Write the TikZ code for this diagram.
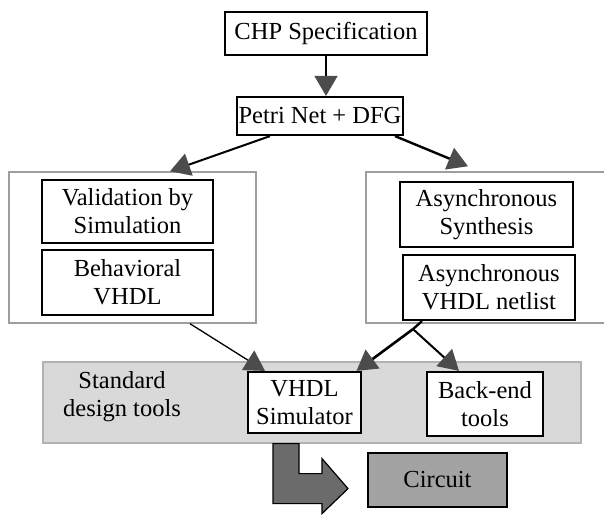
\documentclass[tikz,border=0pt]{standalone}
\usepackage{fontspec}
\setmainfont{Liberation Serif}
\usetikzlibrary{arrows.meta,calc}

\definecolor{framegray}{gray}{0.62}
\definecolor{bandfill}{gray}{0.85}
\definecolor{bandedge}{gray}{0.70}
\definecolor{circuitfill}{gray}{0.64}
\definecolor{bigarrow}{gray}{0.42}
\definecolor{tipgray}{gray}{0.30}

\tikzset{
  label text/.style={font=\fontsize{24.5}{28}\selectfont, align=center, inner sep=0pt},
  stepbox/.style={label text, draw=black, line width=2.2pt, fill=white},
  groupframe/.style={draw=framegray, line width=1.4pt, inner sep=0pt},
  conn/.style={line width=#1, -{Triangle[length=20pt,width=23pt,color=tipgray]}},
  conn/.default=1.6pt
}

\begin{document}
\begin{tikzpicture}[x=1pt,y=-1pt]
  \useasboundingbox (0,0) rectangle (604,516);

  % top of the flow
  \node[stepbox, minimum width=202pt, minimum height=43pt] (chp) at (326,33.5) {CHP Specification};
  \node[stepbox, minimum width=166pt, minimum height=38pt] (petri) at (320,116) {Petri Net + DFG};

  % left branch: simulation
  \node[groupframe, minimum width=247pt, minimum height=151pt] (leftgrp) at (132.5,247.5) {};
  \node[stepbox, minimum width=171pt, minimum height=63pt] (valid) at (127.5,211.5) {Validation by\\Simulation};
  \node[stepbox, minimum width=171pt, minimum height=65pt] (behav) at (127.5,282.5) {Behavioral\\VHDL};

  % right branch: synthesis (frame runs off the right edge)
  \node[groupframe, minimum width=246pt, minimum height=151pt] (rightgrp) at (489,247.5) {};
  \node[stepbox, minimum width=173pt, minimum height=65pt] (synth) at (486.5,214.5) {Asynchronous\\Synthesis};
  \node[stepbox, minimum width=172pt, minimum height=65pt] (netlist) at (489,287.5) {Asynchronous\\VHDL netlist};

  % standard tool band
  \node[draw=bandedge, fill=bandfill, line width=1.2pt, inner sep=0pt,
        minimum width=538pt, minimum height=81pt] (band) at (312,402.5) {};
  \node[label text] (stdtext) at (122,397) {Standard\\design tools};
  \node[stepbox, minimum width=113pt, minimum height=61pt] (vhdlsim) at (304.5,402.5) {VHDL\\Simulator};
  \node[stepbox, minimum width=116pt, minimum height=64pt] (backend) at (485,404) {Back-end\\tools};

  % result
  \node[label text, draw=black, line width=2.2pt, fill=circuitfill,
        minimum width=139pt, minimum height=54pt] (circuit) at (437.5,480) {Circuit};

  % block arrow from the simulator band towards the circuit
  \draw[fill=bigarrow, draw=black, line width=1.2pt]
    ($(band.south)+(-39,0)$) -- ++(26,0) -- ++(0,30) -- ++(23,0) -- ++(0,-15)
    -- ++(26,30) -- ++(-26,25) -- ++(0,-10) -- ++(-49,0) -- cycle;

  % connectors
  \draw[conn=1.6pt] (chp.south) -- (chp.south |- petri.north);
  \draw[conn=2pt] ($(petri.south)+(-50,0)$) -- ($(leftgrp.north)+(37.5,0)$);
  \draw[conn=2.4pt] ($(petri.south)+(75,0)$) -- ($(rightgrp.north)+(-21,-5)$);
  \draw[conn=1.3pt] ($(leftgrp.south)+(57.5,0)$) -- ($(vhdlsim.north)+(-39.5,0)$);
  \coordinate (split) at ($(netlist.south)+(-76,8)$);
  \draw[line width=2.4pt] ($(netlist.south)+(-67,0)$) -- (split);
  \draw[conn=2.6pt] (split) -- ($(vhdlsim.north)+(52,0)$);
  \draw[conn=2pt] (split) -- ($(backend.north)+(-26,0)$);
\end{tikzpicture}
\end{document}
